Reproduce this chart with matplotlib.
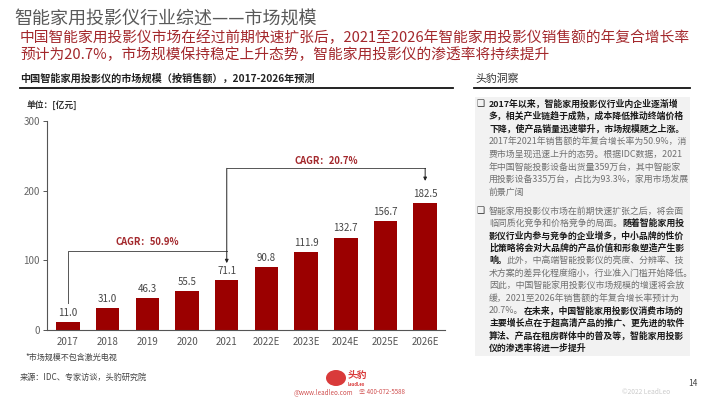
import matplotlib
matplotlib.use("Agg")
import matplotlib.pyplot as plt
from matplotlib.patches import Rectangle, Ellipse

plt.rcParams['font.family'] = ['Noto Sans CJK SC', 'DejaVu Sans']

# data
years = ["2017", "2018", "2019", "2020", "2021", "2022E", "2023E", "2024E", "2025E", "2026E"]
sales = [11.0, 31.0, 46.3, 55.5, 71.1, 90.8, 111.9, 132.7, 156.7, 182.5]
cagr_labels = ["CAGR：50.9%", "CAGR：20.7%"]
y_ticks = [0, 100, 200, 300]

title = "智能家用投影仪行业综述——市场规模"
subtitle = ["中国智能家用投影仪市场在经过前期快速扩张后，2021至2026年智能家用投影仪销售额的年复合增长率",
            "预计为20.7%，市场规模保持稳定上升态势，智能家用投影仪的渗透率将持续提升"]
chart_title = "中国智能家用投影仪的市场规模（按销售额），2017-2026年预测"

# right panel text, (text, bold) runs per line
bullet1 = [
    [("2017年以来，智能家用投影仪行业内企业逐渐增", True)],
    [("多，相关产业链趋于成熟，成本降低推动终端价格", True)],
    [("下降，使产品销量迅速攀升，市场规模随之上涨。", True)],
    [("2017年2021年销售额的年复合增长率为50.9%，消", False)],
    [("费市场呈现迅速上升的态势。根据IDC数据，2021", False)],
    [("年中国智能投影设备出货量359万台，其中智能家", False)],
    [("用投影设备335万台，占比为93.3%，家用市场发展", False)],
    [("前景广阔", False)],
]
bullet2 = [
    [("智能家用投影仪市场在前期快速扩张之后，将会面", False)],
    [("临同质化竞争和价格竞争的局面。", False), ("随着智能家用投", True)],
    [("影仪行业内参与竞争的企业增多，中小品牌的性价", True)],
    [("比策略将会对大品牌的产品价值和形象塑造产生影", True)],
    [("响。", True), ("此外，中高端智能投影仪的亮度、分辨率、技", False)],
    [("术方案的差异化程度缩小，行业准入门槛开始降低。", False)],
    [("因此，中国智能家用投影仪市场规模的增速将会放", False)],
    [("缓，2021至2026年销售额的年复合增长率预计为", False)],
    [("20.7%。", False), ("在未来，中国智能家用投影仪消费市场的", True)],
    [("主要增长点在于超高清产品的推广、更先进的软件", True)],
    [("算法、产品在租房群体中的普及等，智能家用投影", True)],
    [("仪的渗透率将进一步提升", True)],
]

W, H = 710, 399
fig = plt.figure(figsize=(W / 100, H / 100), dpi=100)
fig.patch.set_facecolor("white")

def fx(x):
    return x / W

def fy(y):
    return 1 - y / H

# header
fig.text(fx(14), fy(19), title, fontsize=13, color="#595959", va="center")
for i, line in enumerate(subtitle):
    fig.text(fx(20), fy(38 + 17 * i), line, fontsize=10.6, color="#a3282c", va="center")

# left chart header
fig.text(fx(20), fy(79), chart_title, fontsize=7.3, fontweight="bold", color="#222222", va="center")
fig.add_artist(plt.Line2D([fx(20), fx(453)], [fy(88), fy(88)], color="#111111", lw=1.3))
fig.text(fx(27), fy(105), "单位：[亿元]", fontsize=6.3, fontweight="bold", color="#333333", va="center")

# bar chart
ax = fig.add_axes([fx(47), fy(330), (445 - 47) / W, (330 - 121) / H])
x = list(range(len(years)))
ax.bar(x, sales, width=0.59, color="#9b0000")
for xi, v in zip(x, sales):
    ax.annotate(f"{v:.1f}", (xi, v), xytext=(0, 3), textcoords="offset points",
                ha="center", va="bottom", fontsize=7, color="#444444")
ax.set_xlim(-0.53, 9.5)
ax.set_ylim(0, 300)
ax.set_yticks(y_ticks)
ax.set_xticks(x)
ax.set_xticklabels(years)
ax.tick_params(axis="x", length=0, pad=5, labelsize=7, labelcolor="#555555")
ax.tick_params(axis="y", length=3, width=0.7, color="#555555", pad=2, labelsize=7, labelcolor="#666666")
for s in ["top", "right"]:
    ax.spines[s].set_visible(False)
for s in ["left", "bottom"]:
    ax.spines[s].set_color("#555555")
    ax.spines[s].set_linewidth(0.8)

# CAGR brackets
lc = "#555555"
ax.plot([0, 0, 4], [39, 113, 113], color=lc, lw=0.7)
ax.plot([4, 9], [232, 232], color=lc, lw=0.7)
ax.annotate("", xy=(4, 96), xytext=(4, 232),
            arrowprops=dict(arrowstyle="-|>", color="#222222", lw=0.7, mutation_scale=5, shrinkA=0, shrinkB=0))
ax.annotate("", xy=(9, 214), xytext=(9, 232),
            arrowprops=dict(arrowstyle="-|>", color="#222222", lw=0.7, mutation_scale=5, shrinkA=0, shrinkB=0))
ax.text(2.0, 126, cagr_labels[0], ha="center", va="center", fontsize=6.8, fontweight="bold", color="#a3282c")
ax.text(6.5, 242, cagr_labels[1], ha="center", va="center", fontsize=6.8, fontweight="bold", color="#a3282c")

# footnotes
fig.text(fx(25), fy(357), "*市场规模不包含激光电视", fontsize=5.8, color="#444444", va="center")
fig.text(fx(20), fy(377), "来源：IDC、专家访谈，头豹研究院", fontsize=5.9, color="#444444", va="center")

# right panel
fig.text(fx(475), fy(79), "头豹洞察", fontsize=7.8, color="#333333", va="center")
fig.add_artist(plt.Line2D([fx(474), fx(690)], [fy(88), fy(88)], color="#111111", lw=1.3))
fig.add_artist(Rectangle((fx(475), fy(356)), (690 - 475) / W, (356 - 97) / H,
                         facecolor="#f2f2f2", edgecolor="none", transform=fig.transFigure, zorder=0))

renderer = fig.canvas.get_renderer()

def rich_line(x0, y0, runs, size=6.4):
    xp = x0
    for txt, bold in runs:
        t = fig.text(fx(xp), fy(y0), txt, fontsize=size, va="center", ha="left",
                     fontweight="bold" if bold else "normal",
                     color="#1a1a1a" if bold else "#707070")
        xp += t.get_window_extent(renderer).width

for block, y_start, step in [(bullet1, 103.5, 12.7), (bullet2, 211, 12.45)]:
    fig.text(fx(476), fy(y_start), "❑", fontsize=6.5, color="#333333", va="center", ha="left")
    for i, runs in enumerate(block):
        rich_line(489, y_start + step * i, runs)

# footer logo
fig.add_artist(Ellipse((fx(336), fy(378)), 20 / W, 16 / H, facecolor="#d93a3a",
                       edgecolor="none", transform=fig.transFigure))
fig.text(fx(348), fy(375), "头豹", fontsize=7, fontweight="bold", color="#d93a3a", va="center")
fig.text(fx(348), fy(384), "LeadLeo", fontsize=3, fontweight="bold", color="#d93a3a", va="center")
fig.text(fx(294), fy(392), "@www.leadleo.com", fontsize=4.5, color="#d05050", va="center")
fig.text(fx(359), fy(392), "☏ 400-072-5588", fontsize=4.5, color="#d05050", va="center")
fig.text(fx(688), fy(383), "14", fontsize=6, color="#444444", va="center")
fig.text(fx(622), fy(392), "©2022 LeadLeo", fontsize=4.8, color="#cccccc", va="center")

fig.savefig("out.png", dpi=100)
